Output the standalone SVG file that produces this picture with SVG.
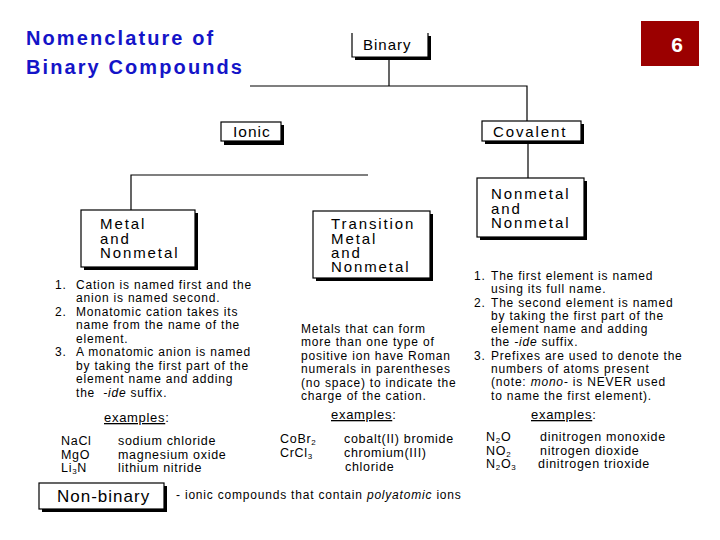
<svg xmlns="http://www.w3.org/2000/svg" width="720" height="540" viewBox="0 0 720 540">
<style>
.t{font-family:"Liberation Sans",Arial,Helvetica,sans-serif;fill:#000}
.title{font-family:"Liberation Sans",Arial,sans-serif;font-weight:bold;font-size:20px;fill:#1414c8;letter-spacing:2.1px}
.body{font-size:12px;letter-spacing:0.8px}
.box{fill:#fff;stroke:#000;stroke-width:1.2}
.sh{fill:#000}
.lbl{font-size:15px;letter-spacing:1.9px}
.ex{font-size:12.5px;letter-spacing:0.7px}
.sub{font-size:8px}
.con{stroke:#000;stroke-width:1.2;fill:none}
.ul{text-decoration:underline}
</style>
<rect width="720" height="540" fill="#fff"/>
<g id="title">
<text class="title" x="26" y="45">Nomenclature of</text>
<text class="title" x="26" y="74">Binary Compounds</text>
</g>
<g id="page">
<rect x="641" y="21" width="58" height="45" fill="#9b0000"/>
<text x="677" y="52" font-family="Liberation Sans,Arial,sans-serif" font-weight="bold" font-size="21" fill="#fff" text-anchor="middle">6</text>
</g>
<g id="connectors">
<path class="con" d="M389 60V86M250 86H527V121M528 141V178M131 210V175H368"/>
</g>
<g id="binary">
<path class="sh" d="M428 36h3v24h-76v-3h73z"/>
<path class="con" d="M352 33V57H428V33"/>
<text class="t" x="363" y="50" font-size="15" letter-spacing="1">Binary</text>
</g>
<g id="ionic">
<rect class="sh" x="224" y="125" width="60" height="20"/>
<rect class="box" x="221" y="122" width="60" height="19"/>
<text class="t" x="233" y="137" font-size="15.5" letter-spacing="1">Ionic</text>
</g>
<g id="covalent">
<rect class="sh" x="485" y="124" width="99" height="20"/>
<rect class="box" x="482" y="121" width="99" height="20"/>
<text class="t lbl" x="493" y="137">Covalent</text>
</g>
<g id="metal">
<rect class="sh" x="84" y="213" width="114" height="57"/>
<rect class="box" x="81" y="210" width="114" height="57"/>
<text class="t lbl" x="100" y="229">Metal</text>
<text class="t lbl" x="100" y="244">and</text>
<text class="t lbl" x="100" y="258">Nonmetal</text>
</g>
<g id="transition">
<rect class="sh" x="316" y="214" width="117" height="67"/>
<rect class="box" x="313" y="211" width="117" height="67"/>
<text class="t lbl" x="331" y="229">Transition</text>
<text class="t lbl" x="331" y="244">Metal</text>
<text class="t lbl" x="331" y="258">and</text>
<text class="t lbl" x="331" y="272">Nonmetal</text>
</g>
<g id="nonmetal">
<rect class="sh" x="480" y="181" width="107" height="59"/>
<rect class="box" x="477" y="178" width="107" height="59"/>
<text class="t lbl" x="491" y="199">Nonmetal</text>
<text class="t lbl" x="491" y="214">and</text>
<text class="t lbl" x="491" y="228">Nonmetal</text>
</g>
<g id="nonbinary">
<rect class="sh" x="42" y="486" width="125" height="26"/>
<rect class="box" x="39" y="483" width="125" height="26"/>
<text class="t" x="57" y="502" font-size="17" letter-spacing="1">Non-binary</text>
<text class="t body" x="176" y="499">- ionic compounds that contain <tspan font-style="italic">polyatomic</tspan> ions</text>
</g>
<g id="ionic-rules" class="t body">
<text x="55" y="289">1.</text><text x="76" y="289">Cation is named first and the</text>
<text x="76" y="302">anion is named second.</text>
<text x="55" y="316">2.</text><text x="76" y="316">Monatomic cation takes its</text>
<text x="76" y="329">name from the name of the</text>
<text x="76" y="343">element.</text>
<text x="55" y="356">3.</text><text x="76" y="356">A monatomic anion is named</text>
<text x="76" y="370">by taking the first part of the</text>
<text x="76" y="383">element name and adding</text>
<text x="76" y="397">the  <tspan font-style="italic" dx="4">-ide</tspan> suffix.</text>
</g>
<g id="transition-rules" class="t body">
<text x="301" y="333">Metals that can form</text>
<text x="301" y="346">more than one type of</text>
<text x="301" y="360">positive ion have Roman</text>
<text x="301" y="373">numerals in parentheses</text>
<text x="301" y="387">(no space) to indicate the</text>
<text x="301" y="400">charge of the cation.</text>
</g>
<g id="covalent-rules" class="t body">
<text x="474" y="280">1.</text><text x="491" y="280">The first element is named</text>
<text x="491" y="293">using its full name.</text>
<text x="474" y="307">2.</text><text x="491" y="307">The second element is named</text>
<text x="491" y="320">by taking the first part of the</text>
<text x="491" y="333">element name and adding</text>
<text x="491" y="346">the <tspan font-style="italic">-ide</tspan> suffix.</text>
<text x="474" y="360">3.</text><text x="491" y="360">Prefixes are used to denote the</text>
<text x="491" y="373">numbers of atoms present</text>
<text x="491" y="386">(note: <tspan font-style="italic">mono-</tspan> is NEVER used</text>
<text x="491" y="400">to name the first element).</text>
</g>
<g id="ionic-examples" class="t ex">
<text x="104" y="422" font-size="13"><tspan class="ul">examples</tspan>:</text>
<text x="61" y="445">NaCl</text><text x="118" y="445">sodium chloride</text>
<text x="61" y="459">MgO</text><text x="118" y="459">magnesium oxide</text>
<text x="61" y="472">Li<tspan class="sub" dy="1.5">3</tspan><tspan dy="-1.5">N</tspan></text><text x="118" y="472">lithium nitride</text>
</g>
<g id="transition-examples" class="t ex">
<text x="331" y="419" font-size="13"><tspan class="ul">examples</tspan>:</text>
<text x="280" y="443">CoBr<tspan class="sub" dy="2">2</tspan></text><text x="344" y="443">cobalt(II) bromide</text>
<text x="280" y="457">CrCl<tspan class="sub" dy="2">3</tspan></text><text x="344" y="457">chromium(III)</text>
<text x="345" y="471">chloride</text>
</g>
<g id="covalent-examples" class="t ex">
<text x="531" y="419" font-size="13"><tspan class="ul">examples</tspan>:</text>
<text x="486" y="441">N<tspan class="sub" dy="1.5">2</tspan><tspan dy="-1.5">O</tspan></text><text x="540" y="441">dinitrogen monoxide</text>
<text x="486" y="455">NO<tspan class="sub" dy="2">2</tspan></text><text x="540" y="455">nitrogen dioxide</text>
<text x="486" y="468">N<tspan class="sub" dy="1.5">2</tspan><tspan dy="-1.5">O</tspan><tspan class="sub" dy="1.5">3</tspan></text><text x="538" y="468">dinitrogen trioxide</text>
</g>
</svg>
